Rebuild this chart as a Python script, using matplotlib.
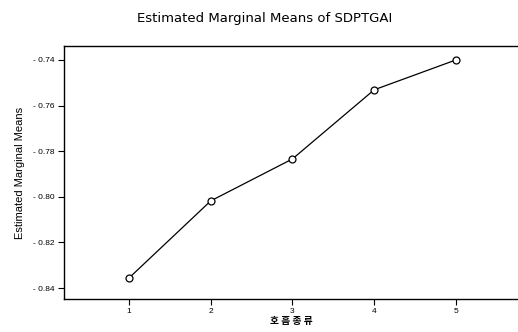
import matplotlib
matplotlib.use('Agg')
from matplotlib import pyplot as plt

plt.rcParams['font.family'] = ['Liberation Sans', 'Noto Sans CJK KR', 'DejaVu Sans']

groups = [1, 2, 3, 4, 5]
means = [-0.8356, -0.8018, -0.7834, -0.7531, -0.7400]
yticks = [-0.84, -0.82, -0.80, -0.78, -0.76, -0.74]
ylabels = ['- 0.84', '- 0.82', '- 0.80', '- 0.78', '- 0.76', '- 0.74']

fig = plt.figure(figsize=(5.18, 3.32), dpi=100)
ax = fig.add_axes([0.1236, 0.0994, 0.8764, 0.762])

ax.plot(groups, means, color='black', linewidth=0.9, marker='o', markersize=5,
        markerfacecolor='white', markeredgecolor='black', markeredgewidth=0.9)

ax.set_xlim(0.205, 5.76)
ax.set_ylim(-0.8448, -0.7339)
ax.set_xticks(groups)
ax.set_xticklabels([str(g) for g in groups], fontsize=6)
ax.set_yticks(yticks)
ax.set_yticklabels(ylabels, fontsize=6)
ax.tick_params(direction='out', length=4.5, width=0.8, pad=2)

for s in ['left', 'bottom', 'top']:
    ax.spines[s].set_linewidth(1.0)
ax.spines['right'].set_visible(False)

ax.set_ylabel('Estimated Marginal Means', fontsize=8, labelpad=6,
              family=['Liberation Sans'])
ax.set_xlabel('호 흡 종 류', fontsize=7, fontweight='bold', labelpad=1,
              family=['Noto Sans CJK KR'])
fig.text(0.51, 0.945, 'Estimated Marginal Means of SDPTGAI', ha='center', va='center',
         fontsize=9.5, family=['DejaVu Sans'])

fig.savefig('out.png', dpi=100)
